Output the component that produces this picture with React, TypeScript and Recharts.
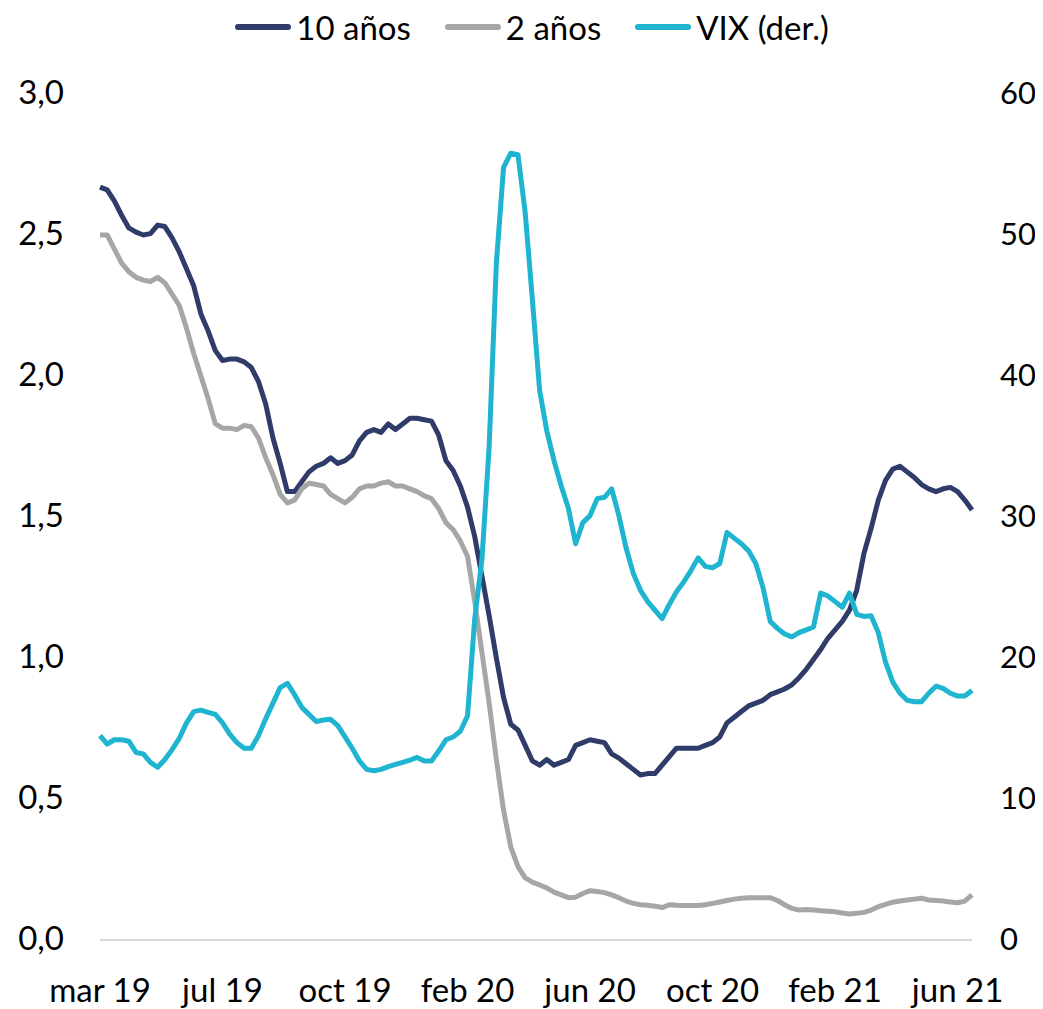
import { LineChart, Line, XAxis, YAxis } from "recharts";

// weekly points, mar 2019 -> jun 2021; one axis label every 17 weeks
const tickLabels = ["mar 19", "jul 19", "oct 19", "feb 20", "jun 20", "oct 20", "feb 21", "jun 21"];
const LABEL_STEP = 17;

// 10-year yield (%)
const tenYear = [
  2.67, 2.66, 2.62, 2.57, 2.525, 2.51, 2.50, 2.505, 2.535, 2.53,
  2.49, 2.44, 2.38, 2.32, 2.22, 2.16, 2.09, 2.055, 2.06, 2.06,
  2.05, 2.03, 1.98, 1.90, 1.78, 1.69, 1.59, 1.59, 1.625, 1.66,
  1.68, 1.69, 1.71, 1.69, 1.70, 1.72, 1.77, 1.80, 1.81, 1.80,
  1.83, 1.81, 1.83, 1.85, 1.85, 1.845, 1.84, 1.79, 1.70, 1.665,
  1.61, 1.535, 1.43, 1.29, 1.15, 1.0, 0.86, 0.765, 0.745, 0.69,
  0.635, 0.62, 0.64, 0.62, 0.63, 0.64, 0.69, 0.70, 0.71, 0.705,
  0.70, 0.66, 0.645, 0.625, 0.605, 0.585, 0.59, 0.59, 0.62, 0.65,
  0.68, 0.68, 0.68, 0.68, 0.69, 0.70, 0.72, 0.77, 0.79, 0.81,
  0.83, 0.84, 0.85, 0.87, 0.88, 0.89, 0.905, 0.93, 0.96, 0.995,
  1.03, 1.07, 1.10, 1.13, 1.17, 1.24, 1.37, 1.46, 1.56, 1.63,
  1.67, 1.68, 1.66, 1.64, 1.615, 1.60, 1.59, 1.60, 1.605, 1.59,
  1.56, 1.525,
];

// 2-year yield (%)
const twoYear = [
  2.50, 2.50, 2.45, 2.40, 2.37, 2.35, 2.34, 2.335, 2.35, 2.33,
  2.29, 2.25, 2.17, 2.08, 2.00, 1.92, 1.83, 1.815, 1.815, 1.81,
  1.825, 1.82, 1.78, 1.71, 1.65, 1.58, 1.55, 1.56, 1.60, 1.62,
  1.615, 1.61, 1.58, 1.565, 1.55, 1.57, 1.60, 1.61, 1.61, 1.62,
  1.625, 1.61, 1.61, 1.60, 1.59, 1.575, 1.565, 1.53, 1.48, 1.455,
  1.415, 1.36, 1.20, 1.02, 0.84, 0.64, 0.46, 0.33, 0.26, 0.22,
  0.205, 0.195, 0.185, 0.17, 0.16, 0.15, 0.152, 0.165, 0.175, 0.172,
  0.168, 0.16, 0.15, 0.138, 0.13, 0.125, 0.123, 0.12, 0.115, 0.125,
  0.123, 0.122, 0.122, 0.122, 0.125, 0.13, 0.135, 0.14, 0.145, 0.148,
  0.15, 0.15, 0.15, 0.15, 0.14, 0.125, 0.112, 0.106, 0.108, 0.106,
  0.104, 0.102, 0.1, 0.096, 0.092, 0.095, 0.098, 0.106, 0.118, 0.126,
  0.134, 0.138, 0.142, 0.145, 0.148, 0.142, 0.14, 0.138, 0.135, 0.132,
  0.138, 0.16,
];

// VIX (right axis)
const vix = [
  14.5, 13.9, 14.2, 14.2, 14.1, 13.3, 13.2, 12.6, 12.25, 12.8,
  13.5, 14.3, 15.4, 16.2, 16.3, 16.15, 16.0, 15.4, 14.6, 14.0,
  13.6, 13.6, 14.5, 15.7, 16.8, 17.9, 18.2, 17.4, 16.5, 16.0,
  15.5, 15.6, 15.65, 15.2, 14.4, 13.6, 12.7, 12.1, 12.0, 12.1,
  12.3, 12.45, 12.6, 12.75, 12.95, 12.7, 12.7, 13.4, 14.2, 14.4,
  14.8, 15.9, 22.8, 27.0, 35.0, 48.0, 54.8, 55.8, 55.7, 51.6,
  45.4, 39.0, 36.1, 34.0, 32.2, 30.6, 28.1, 29.6, 30.1, 31.3,
  31.4, 32.0, 30.1, 27.8, 26.0, 24.8, 24.0, 23.4, 22.8, 23.8,
  24.7, 25.4, 26.2, 27.1, 26.5, 26.4, 26.7, 28.9, 28.5, 28.1,
  27.6, 26.7, 25.0, 22.6, 22.1, 21.7, 21.5, 21.8, 22.0, 22.2,
  24.6, 24.4, 24.0, 23.6, 24.6, 23.1, 22.95, 23.0, 21.8, 19.7,
  18.3, 17.5, 17.0, 16.9, 16.9, 17.5, 18.0, 17.85, 17.5, 17.3,
  17.3, 17.7,
];

const leftTicks = [0, 0.5, 1, 1.5, 2, 2.5, 3];
const rightTicks = [0, 10, 20, 30, 40, 50, 60];

const COLORS = { ten: "#2F3B68", two: "#A6A6A6", vix: "#1FB4CF" };
const FONT = "Lato, 'Open Sans', sans-serif";
const FS = 33;

const data = tenYear.map((v, i) => ({ i, ten: v, two: twoYear[i], vix: vix[i] }));
const xTicks = tickLabels.map((_, k) => k * LABEL_STEP);

const XTick = ({ x, y, payload }: any) => (
  <text x={x} y={y + 62} textAnchor="middle" fontSize={FS} fill="#000" fontFamily={FONT}>
    {tickLabels[Math.round(payload.value / LABEL_STEP)]}
  </text>
);

const LeftTick = ({ x, y, payload }: any) => (
  <text x={x - 36} y={y + 10} textAnchor="end" fontSize={FS} fill="#000" fontFamily={FONT}>
    {Number(payload.value).toFixed(1).replace(".", ",")}
  </text>
);

const RightTick = ({ x, y, payload }: any) => (
  <text x={x + 28} y={y + 10} textAnchor="start" fontSize={31} fill="#000" fontFamily={FONT}>
    {payload.value}
  </text>
);

const legendItems = [
  { name: "10 años", color: COLORS.ten },
  { name: "2 años", color: COLORS.two },
  { name: "VIX (der.)", color: COLORS.vix },
];

export default function App() {
  return (
    <div style={{ position: "relative", width: 1035, height: 1001, fontFamily: FONT }}>
      <div
        style={{
          position: "absolute",
          top: -1,
          left: 88,
          width: 872,
          height: 40,
          display: "flex",
          justifyContent: "center",
          alignItems: "center",
          gap: 34,
          fontSize: FS,
          lineHeight: "40px",
          color: "#000",
        }}
      >
        {legendItems.map((it) => (
          <div key={it.name} style={{ display: "flex", alignItems: "center" }}>
            <svg width={56} height={10} style={{ marginRight: 5 }}>
              <line x1={3} y1={5} x2={53} y2={5} stroke={it.color} strokeWidth={6} strokeLinecap="round" />
            </svg>
            <span>{it.name}</span>
          </div>
        ))}
      </div>

      <LineChart width={1035} height={1001} data={data} margin={{ top: 86, right: 0, bottom: 9, left: 0 }}>
        <XAxis
          dataKey="i"
          type="number"
          domain={[0, tenYear.length - 1]}
          ticks={xTicks}
          interval={0}
          tick={<XTick />}
          tickLine={false}
          tickSize={0}
          tickMargin={0}
          axisLine={{ stroke: "#D9D9D9", strokeWidth: 2 }}
          height={60}
        />
        <YAxis
          yAxisId="left"
          orientation="left"
          width={92}
          domain={[0, 3]}
          ticks={leftTicks}
          interval={0}
          tick={<LeftTick />}
          tickLine={false}
          tickSize={0}
          tickMargin={0}
          axisLine={false}
        />
        <YAxis
          yAxisId="right"
          orientation="right"
          width={71}
          domain={[0, 60]}
          ticks={rightTicks}
          interval={0}
          tick={<RightTick />}
          tickLine={false}
          tickSize={0}
          tickMargin={0}
          axisLine={false}
        />
        <Line
          yAxisId="left"
          dataKey="ten"
          type="linear"
          stroke={COLORS.ten}
          strokeWidth={5}
          strokeLinejoin="round"
          dot={false}
          isAnimationActive={false}
        />
        <Line
          yAxisId="left"
          dataKey="two"
          type="linear"
          stroke={COLORS.two}
          strokeWidth={5}
          strokeLinejoin="round"
          dot={false}
          isAnimationActive={false}
        />
        <Line
          yAxisId="right"
          dataKey="vix"
          type="linear"
          stroke={COLORS.vix}
          strokeWidth={5}
          strokeLinejoin="round"
          dot={false}
          isAnimationActive={false}
        />
      </LineChart>
    </div>
  );
}
